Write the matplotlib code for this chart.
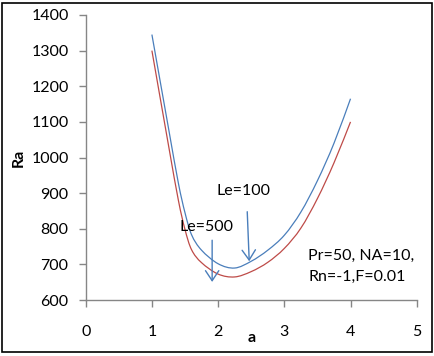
import numpy as np
import matplotlib
matplotlib.use("Agg")
import matplotlib.pyplot as plt
from matplotlib.path import Path
from matplotlib.patches import PathPatch, Rectangle

# === dati ===
a_vals = [1.0, 1.25, 1.4, 1.5, 1.6, 1.75, 2.0, 2.25, 2.5, 2.75, 3.0, 3.25, 3.5, 3.75, 4.0]
ra_le100 = [1345, 1083, 928, 845, 783, 740, 702, 690, 709, 740, 782, 847, 935, 1040, 1165]
ra_le500 = [1300, 1035, 880, 798, 741, 705, 673, 665, 680, 706, 745, 802, 885, 985, 1100]

x_ticks = [0, 1, 2, 3, 4, 5]
y_ticks = [600, 700, 800, 900, 1000, 1100, 1200, 1300, 1400]

plt.rcParams['font.family'] = ['Lato', 'DejaVu Sans']

blue = '#4a7ebb'
red = '#be4b48'


def smooth_path(xs, ys):
    # linea "smussata" tipo Excel (Catmull-Rom -> Bezier)
    p = np.column_stack([xs, ys]).astype(float)
    verts = [p[0]]
    codes = [Path.MOVETO]
    n = len(p)
    for i in range(n - 1):
        p0 = p[i - 1] if i > 0 else p[i]
        p1 = p[i]
        p2 = p[i + 1]
        p3 = p[i + 2] if i + 2 < n else p[i + 1]
        c1 = p1 + (p2 - p0) / 6
        c2 = p2 - (p3 - p1) / 6
        verts += [c1, c2, p2]
        codes += [Path.CURVE4] * 3
    return Path(verts, codes)


fig = plt.figure(figsize=(4.35, 3.56), dpi=100)
ax = fig.add_axes([0.197, 0.157, 0.761, 0.801])

for ys, col in [(ra_le100, blue), (ra_le500, red)]:
    ax.add_patch(PathPatch(smooth_path(a_vals, ys), fill=False,
                           edgecolor=col, lw=0.9))

ax.set_xlim(0, 5)
ax.set_ylim(600, 1400)
ax.set_xticks(x_ticks)
ax.set_yticks(y_ticks)

for s in ['top', 'right']:
    ax.spines[s].set_visible(False)
for s in ['left', 'bottom']:
    ax.spines[s].set_color('#868686')
    ax.spines[s].set_linewidth(1.0)
ax.tick_params(axis='both', direction='out', length=4.8, width=1.0,
               color='#868686', labelsize=11.5, labelcolor='black')
ax.tick_params(axis='y', pad=7.5)
ax.tick_params(axis='x', pad=13)

ax.set_xlabel('a', fontsize=11.5, fontweight='bold')
ax.xaxis.set_label_coords(0.5, -0.11)
ax.set_ylabel('Ra', fontsize=11.5, fontweight='bold')
ax.yaxis.set_label_coords(-0.18, 0.5)

# === frecce e testi ===
arrow = dict(arrowstyle='->,head_length=0.72,head_width=0.48', color=blue,
             lw=1.0, shrinkA=0, shrinkB=0)
ax.annotate('', xy=(2.47, 709), xytext=(2.44, 848), arrowprops=arrow)
ax.annotate('', xy=(1.91, 651), xytext=(1.91, 768), arrowprops=arrow)
ax.text(2.39, 906, 'Le=100', ha='center', va='center', fontsize=11.5)
ax.text(1.82, 805, 'Le=500', ha='center', va='center', fontsize=11.5)
ax.text(3.36, 723, 'Pr=50, NA=10,', ha='left', va='center', fontsize=11.5)
ax.text(3.36, 666, 'Rn=-1,F=0.01', ha='left', va='center', fontsize=11.5)

# bordo esterno
fig.patches.append(Rectangle((0.0057, 0.0112), 0.987, 0.980, fill=False,
                             edgecolor='black', lw=1.2,
                             transform=fig.transFigure, figure=fig))

fig.savefig('out.png', dpi=100)
